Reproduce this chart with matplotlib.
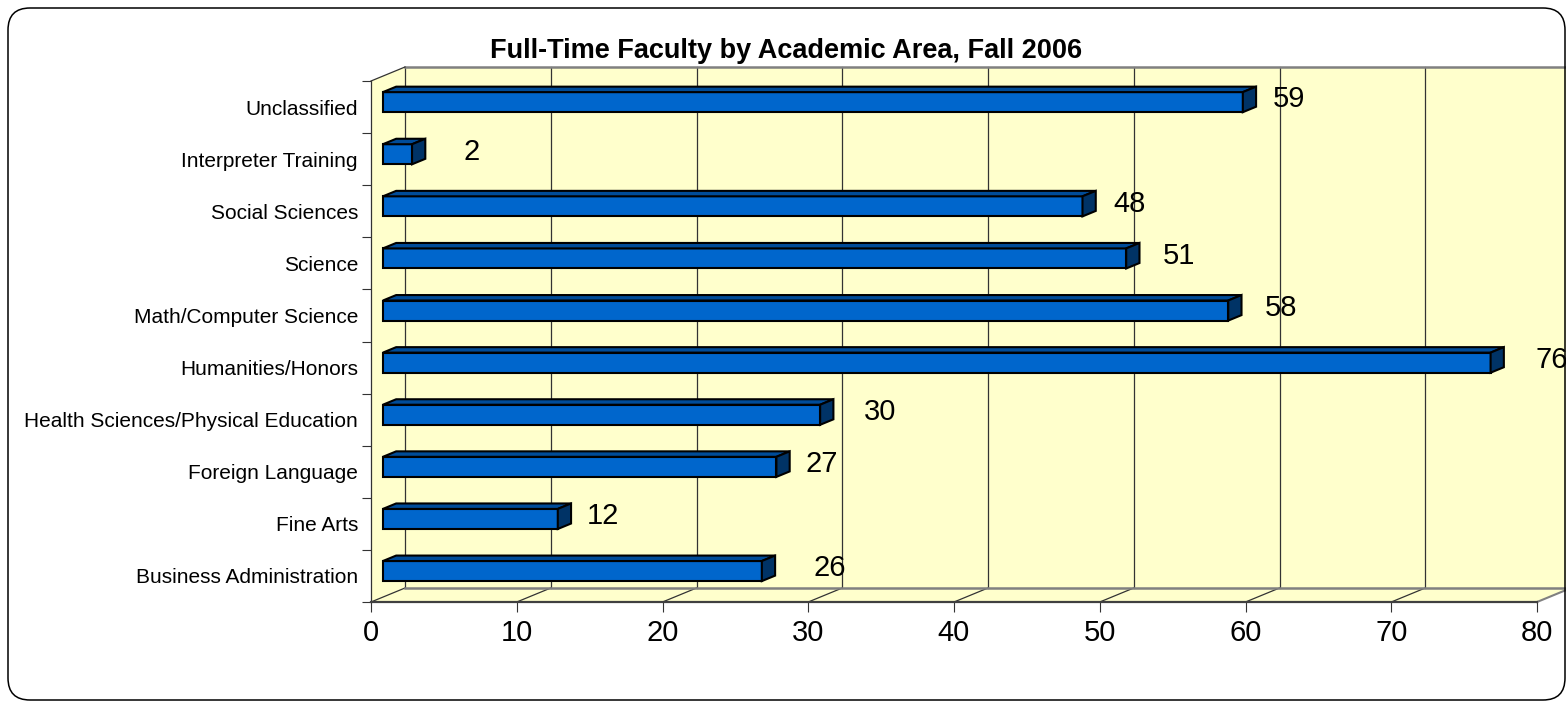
import matplotlib
matplotlib.use("Agg")
import matplotlib.pyplot as plt
import matplotlib.transforms as mtransforms
from matplotlib.patches import Polygon, FancyBboxPatch

plt.rcParams['font.family'] = ['Liberation Sans', 'DejaVu Sans']

# data (bottom to top)
categories = ['Business Administration', 'Fine Arts', 'Foreign Language',
              'Health Sciences/Physical Education', 'Humanities/Honors',
              'Math/Computer Science', 'Science', 'Social Sciences',
              'Interpreter Training', 'Unclassified']
faculty = [26, 12, 27, 30, 76, 58, 51, 48, 2, 59]
# gap (pixels) between bar end and its value label, as placed in the original
label_gap = [38, 16, 16, 30, 32, 23, 23, 18, 38, 17]
xticks = list(range(0, 81, 10))

# 3D look: full depth of the walls in pixels, bar slab between two depths
DX, DY = 34, 14
D_FRONT, D_BACK = 0.35, 0.74
BAR_H = 0.385

WALL = '#FFFFCC'
FRONT = '#0066CC'
TOP = '#004C99'
SIDE = '#003366'
GRID = '#333333'
EDGE_GRAY = '#808080'

fig = plt.figure(figsize=(15.66, 7.01), dpi=100)
ax = fig.add_axes([371 / 1566, 99 / 701, 1166 / 1566, 521 / 701])
ax.set_xlim(0, 80)
ax.set_ylim(-0.5, len(categories) - 0.5)
ax.patch.set_visible(False)
ident = mtransforms.IdentityTransform()
ylo, yhi = -0.5, len(categories) - 0.5


def P(x, y, d):
    px, py = ax.transData.transform((x, y))
    return (px + d * DX, py + d * DY)


def poly(pts, **kw):
    p = Polygon(pts, closed=True, transform=ident, clip_on=False, **kw)
    ax.add_patch(p)
    return p


def seg(a, b, **kw):
    ax.add_line(plt.Line2D([a[0], b[0]], [a[1], b[1]], transform=ident,
                           clip_on=False, **kw))


# walls and floor
poly([P(0, ylo, 1), P(80, ylo, 1), P(80, yhi, 1), P(0, yhi, 1)],
     facecolor=WALL, edgecolor='none', zorder=0)
poly([P(0, ylo, 0), P(0, yhi, 0), P(0, yhi, 1), P(0, ylo, 1)],
     facecolor=WALL, edgecolor='none', zorder=0)
poly([P(0, ylo, 0), P(80, ylo, 0), P(80, ylo, 1), P(0, ylo, 1)],
     facecolor=WALL, edgecolor='none', zorder=0)

for x in xticks:
    seg(P(x, ylo, 1), P(x, yhi, 1), color=GRID, lw=0.9, zorder=1)
    if x < 80:
        seg(P(x, ylo, 0), P(x, ylo, 1), color=GRID, lw=0.9, zorder=1)
seg(P(80, ylo, 0), P(80, ylo, 1), color=EDGE_GRAY, lw=1.5, zorder=1)
seg(P(0, yhi, 1), P(80, yhi, 1), color=EDGE_GRAY, lw=1.8, zorder=1)
seg(P(0, ylo, 1), P(80, ylo, 1), color=EDGE_GRAY, lw=1.8, zorder=1)
seg(P(0, yhi, 0), P(0, yhi, 1), color=GRID, lw=0.9, zorder=1)

# bars
for i, v in enumerate(faculty):
    b, t = i - BAR_H / 2, i + BAR_H / 2
    poly([P(0, b, D_FRONT), P(v, b, D_FRONT), P(v, t, D_FRONT), P(0, t, D_FRONT)],
         facecolor=FRONT, edgecolor='black', lw=1.5, joinstyle='miter', zorder=3)
    poly([P(0, t, D_FRONT), P(v, t, D_FRONT), P(v, t, D_BACK), P(0, t, D_BACK)],
         facecolor=TOP, edgecolor='black', lw=1.5, joinstyle='miter', zorder=3)
    poly([P(v, b, D_FRONT), P(v, b, D_BACK), P(v, t, D_BACK), P(v, t, D_FRONT)],
         facecolor=SIDE, edgecolor='black', lw=1.5, joinstyle='miter', zorder=3)
    lx = P(v, t, D_BACK)[0] + label_gap[i]
    ly = P(v, i, (D_FRONT + D_BACK) / 2)[1]
    ax.text(lx, ly, str(v), transform=ident, ha='left', va='center',
            fontsize=21, zorder=4)

# front axes
for s in ['top', 'right']:
    ax.spines[s].set_visible(False)
ax.spines['left'].set_color(GRID)
ax.spines['left'].set_linewidth(0.9)
ax.spines['bottom'].set_color('#404040')
ax.spines['bottom'].set_linewidth(1.6)

ax.set_xticks(xticks)
ax.tick_params(axis='x', length=7.2, width=0.8, color=GRID, labelsize=21, pad=5)
ax.set_yticks(range(len(categories)))
ax.set_yticklabels(categories)
ax.tick_params(axis='y', which='major', length=0, labelsize=15, pad=9.4)
ax.set_yticks([k - 0.5 for k in range(len(categories) + 1)], minor=True)
ax.tick_params(axis='y', which='minor', length=6.5, width=0.8, color=GRID)

fig.text(786 / 1566, 1 - 51 / 701, 'Full-Time Faculty by Academic Area, Fall 2006',
         ha='center', va='center', fontsize=19.5, fontweight='bold')

# rounded outer frame
fig.add_artist(FancyBboxPatch((8, 1), 1557, 692,
                              boxstyle='round,pad=0,rounding_size=22',
                              transform=ident, facecolor='none',
                              edgecolor='black', lw=1.1))

fig.savefig('out.png', dpi=100)
